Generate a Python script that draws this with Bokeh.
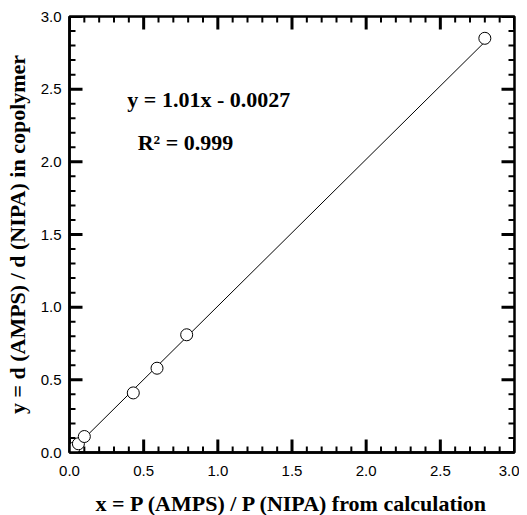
from bokeh.plotting import figure
from bokeh.models import Label, Range1d, FixedTicker, NumeralTickFormatter
from bokeh.embed import file_html
from bokeh.resources import INLINE

# data
x_vals = [0.01, 0.03, 0.06, 0.10, 0.43, 0.59, 0.79, 2.80]
y_vals = [0.01, 0.03, 0.06, 0.11, 0.41, 0.58, 0.81, 2.85]
fit_x = [0.0, 2.80]
fit_y = [-0.0027, 2.8253]
major_ticks = [0.0, 0.5, 1.0, 1.5, 2.0, 2.5, 3.0]
minor_ticks = [0.1, 0.2, 0.3, 0.4, 0.6, 0.7, 0.8, 0.9, 1.1, 1.2, 1.3, 1.4,
               1.6, 1.7, 1.8, 1.9, 2.1, 2.2, 2.3, 2.4, 2.6, 2.7, 2.8, 2.9]
eq_text = "y = 1.01x - 0.0027"
r2_text = "R\u00b2 = 0.999"
x_title = "x = P (AMPS) / P (NIPA) from calculation"
y_title = "y = d (AMPS) / d (NIPA) in copolymer"

X0, X1, Y0, Y1 = 0.0, 3.0, 0.0, 3.0
FW, FH = 445, 436

p = figure(frame_width=FW, frame_height=FH, output_backend="svg",
           toolbar_location=None, x_range=Range1d(X0, X1), y_range=Range1d(Y0, Y1),
           min_border_left=69, min_border_top=16, min_border_right=5,
           min_border_bottom=8)
p.xgrid.visible = False
p.ygrid.visible = False
p.outline_line_color = "black"
p.outline_line_width = 2.5
p.background_fill_color = "white"
p.border_fill_color = "white"

def px_x(n):
    return n * (X1 - X0) / FW

def px_y(n):
    return n * (Y1 - Y0) / FH

MAJ, MIN = 13, 6

# inward ticks on all four sides
bx0, by0, bx1, by1 = [], [], [], []
for t in major_ticks:
    bx0 += [t, t, X0, X1]
    bx1 += [t, t, X0 + px_x(MAJ), X1 - px_x(MAJ)]
    by0 += [Y0, Y1, t, t]
    by1 += [Y0 + px_y(MAJ), Y1 - px_y(MAJ), t, t]
sx0, sy0, sx1, sy1 = [], [], [], []
for t in minor_ticks:
    sx0 += [t, t, X0, X1]
    sx1 += [t, t, X0 + px_x(MIN), X1 - px_x(MIN)]
    sy0 += [Y0, Y1, t, t]
    sy1 += [Y0 + px_y(MIN), Y1 - px_y(MIN), t, t]

p.segment(x0=bx0, y0=by0, x1=bx1, y1=by1, line_color="black", line_width=3)
p.segment(x0=sx0, y0=sy0, x1=sx1, y1=sy1, line_color="black", line_width=2)

p.line(fit_x, fit_y, line_color="black", line_width=1)
p.scatter(x_vals, y_vals, size=12, marker="circle", fill_color="white",
          line_color="black", line_width=1)

for ax in (p.xaxis[0], p.yaxis[0]):
    ax.ticker = FixedTicker(ticks=major_ticks)
    ax.formatter = NumeralTickFormatter(format="0.0")
    ax.axis_line_width = 2.5
    ax.axis_line_color = "black"
    ax.major_tick_in = 0
    ax.major_tick_out = 0
    ax.minor_tick_in = 0
    ax.minor_tick_out = 0
    ax.major_label_text_font = "Liberation Sans"
    ax.major_label_text_font_size = "15px"
    ax.major_label_text_color = "black"
    ax.axis_label_text_font = "Liberation Serif"
    ax.axis_label_text_font_style = "bold"
    ax.axis_label_text_font_size = "22px"
    ax.axis_label_text_color = "black"

p.xaxis[0].axis_label = x_title
p.yaxis[0].axis_label = y_title
p.xaxis[0].major_label_standoff = 13
p.yaxis[0].major_label_standoff = 8
p.xaxis[0].axis_label_standoff = 12
p.yaxis[0].axis_label_standoff = 8

p.add_layout(Label(x=0.39, y=2.43, text=eq_text, text_font="Liberation Serif",
                   text_font_style="bold", text_font_size="22px",
                   text_baseline="middle", text_color="black"))
p.add_layout(Label(x=0.46, y=2.13, text=r2_text, text_font="Liberation Serif",
                   text_font_style="bold", text_font_size="22px",
                   text_baseline="middle", text_color="black"))

open("out.html", "w").write(file_html(p, INLINE))
